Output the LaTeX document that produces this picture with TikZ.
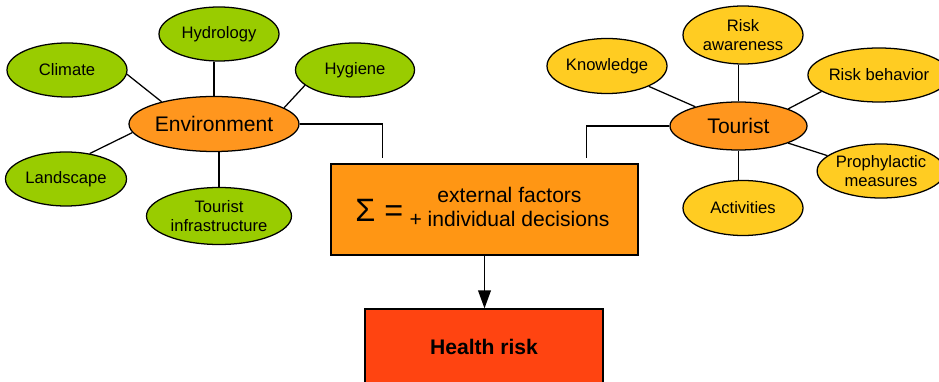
\documentclass[tikz,border=0pt]{standalone}
\usepackage{fontspec}
\setmainfont{Liberation Sans}
\usetikzlibrary{shapes.geometric,arrows.meta}

\definecolor{leafgreen}{RGB}{153,204,0}
\definecolor{leafyellow}{RGB}{255,204,34}
\definecolor{huborange}{RGB}{255,150,30}
\definecolor{sumorange}{RGB}{255,150,20}
\definecolor{riskred}{RGB}{255,68,17}

\begin{document}
\begin{tikzpicture}[line width=0.9pt,
		leaf/.style={shape=ellipse, draw, inner sep=0pt, align=center, font=\fontsize{11.8}{14}\selectfont},
		envleaf/.style={leaf, fill=leafgreen, minimum width=3cm, minimum height=1.35cm},
		tourleaf/.style={leaf, fill=leafyellow, minimum width=3cm, minimum height=1.375cm},
		hub/.style={shape=ellipse, draw, fill=huborange, inner sep=0pt, font=\fontsize{15}{18}\selectfont}]
			\useasboundingbox (0, 0) rectangle (23.475, 9.525);
			\clip (0, 0) rectangle (23.475, 9.525);
			% environment side
			\node[hub, minimum width=4.25cm, minimum height=1.375cm](env) at (5.35, 6.425){Environment};
			\node[envleaf](hydro) at (5.475, 8.675){Hydrology};
			\node[envleaf](climate) at (1.675, 7.775){Climate};
			\node[envleaf, minimum width=2.975cm](hygiene) at (8.875, 7.775){Hygiene};
			\node[envleaf, minimum width=3.025cm](landsc) at (1.65, 5.05){Landscape};
			\node[envleaf, minimum width=3.625cm, minimum height=1.425cm](tinfra) at (5.475, 4.125){Tourist\\infrastructure};
			\draw (env.north) -- (env.north |- hydro.south);
			\draw (env.157) -- (climate.-4);
			\draw (env.13) -- (hygiene.197);
			\draw (env.186) -- (landsc.47);
			\draw (tinfra.north) -- (tinfra.north |- env.south);
			% tourist side
			\node[hub, minimum width=3.425cm, minimum height=1.2cm](tourist) at (18.4625, 6.375){Tourist};
			\node[tourleaf](knowl) at (15.175, 7.875){Knowledge};
			\node[tourleaf, minimum height=1.45cm](aware) at (18.575, 8.65){Risk\\awareness};
			\node[tourleaf, minimum width=2.95cm, minimum height=1.35cm](behav) at (21.975, 7.65){Risk behavior};
			\node[tourleaf, minimum width=2.9cm, minimum height=1.35cm](proph) at (22.025, 5.25){Prophylactic\\measures};
			\node[tourleaf](activ) at (18.575, 4.325){Activities};
			\draw (tourist.north) -- (tourist.north |- aware.south);
			\draw (tourist.156) -- (knowl.-26);
			\draw (tourist.19) -- (behav.196);
			\draw (tourist.-19) -- (proph.164);
			\draw (tourist.south) -- (tourist.south |- activ.north);
			% sum and result
			\node[draw, fill=sumorange, minimum width=7.675cm, minimum height=2.275cm](sum) at (12.1125, 4.2875){\hspace{-0.3em}\raisebox{-5pt}{\fontsize{23}{23}\selectfont Σ =}\hspace{0.45em}{\fontsize{15}{17.7}\selectfont\begin{tabular}{@{}c@{}}external factors\\+ individual decisions\end{tabular}}};
			\node[draw, fill=riskred, minimum width=5.95cm, minimum height=1.9cm, font=\bfseries\fontsize{15}{18}\selectfont](health) at (12.1, 0.85){Health risk};
			\draw[shorten >=0.125cm] (env.east) -| ([xshift=-2.55cm]sum.north);
			\draw[shorten >=0.125cm] (tourist.west) -| ([xshift=2.55cm]sum.north);
			\draw[-{Triangle[length=0.45cm, width=0.32cm]}] (sum.south) -- (sum.south |- health.north);
		\end{tikzpicture}
\end{document}
